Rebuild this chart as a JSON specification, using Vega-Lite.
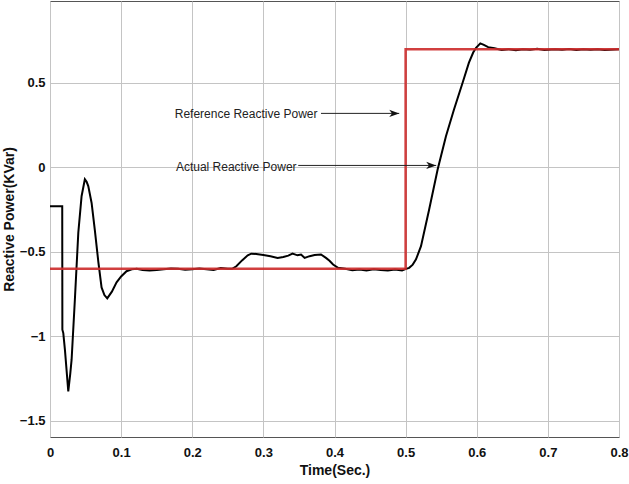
{
  "$schema": "https://vega.github.io/schema/vega-lite/v6.json",
  "width": 569,
  "height": 436,
  "autosize": "none",
  "padding": {"left": 50, "top": 1, "right": 10, "bottom": 47},
  "background": "white",
  "config": {
    "view": {"stroke": "#555555", "strokeWidth": 1},
    "font": "Liberation Sans",
    "axis": {
      "grid": true, "gridColor": "#c4c4c4", "gridWidth": 1,
      "domain": false, "ticks": false,
      "labelFont": "Liberation Sans", "labelFontWeight": "bold", "labelFontSize": 13, "labelColor": "#111111",
      "titleFont": "Liberation Sans", "titleFontWeight": "bold", "titleFontSize": 14, "titleColor": "#111111"
    }
  },
  "datasets": {
    "actual": [
      {"t":0,"v":-0.23},{"t":0.0172,"v":-0.23},{"t":0.0174,"v":-0.96},{"t":0.0187,"v":-0.98},{"t":0.021,"v":-1.08},
      {"t":0.0257,"v":-1.325},{"t":0.0285,"v":-1.22},{"t":0.0304,"v":-1.136},{"t":0.035,"v":-0.78},{"t":0.0398,"v":-0.386},
      {"t":0.0444,"v":-0.17},{"t":0.049,"v":-0.07},{"t":0.0515,"v":-0.085},{"t":0.0538,"v":-0.11},{"t":0.0585,"v":-0.21},
      {"t":0.063,"v":-0.37},{"t":0.068,"v":-0.56},{"t":0.0725,"v":-0.71},{"t":0.0765,"v":-0.755},{"t":0.0805,"v":-0.775},
      {"t":0.087,"v":-0.735},{"t":0.0936,"v":-0.68},{"t":0.1,"v":-0.645},{"t":0.1076,"v":-0.614},{"t":0.115,"v":-0.603},
      {"t":0.122,"v":-0.6},{"t":0.13,"v":-0.607},{"t":0.14,"v":-0.61},{"t":0.15,"v":-0.607},{"t":0.16,"v":-0.603},
      {"t":0.17,"v":-0.598},{"t":0.18,"v":-0.6},{"t":0.19,"v":-0.605},{"t":0.2,"v":-0.602},{"t":0.21,"v":-0.598},
      {"t":0.22,"v":-0.603},{"t":0.23,"v":-0.607},{"t":0.24,"v":-0.595},{"t":0.25,"v":-0.6},{"t":0.256,"v":-0.6},
      {"t":0.262,"v":-0.585},{"t":0.27,"v":-0.55},{"t":0.278,"v":-0.52},{"t":0.283,"v":-0.51},{"t":0.29,"v":-0.512},
      {"t":0.3,"v":-0.518},{"t":0.31,"v":-0.525},{"t":0.32,"v":-0.535},{"t":0.328,"v":-0.53},{"t":0.335,"v":-0.522},
      {"t":0.341,"v":-0.51},{"t":0.348,"v":-0.52},{"t":0.353,"v":-0.515},{"t":0.358,"v":-0.535},{"t":0.365,"v":-0.525},
      {"t":0.372,"v":-0.518},{"t":0.381,"v":-0.515},{"t":0.388,"v":-0.535},{"t":0.393,"v":-0.552},{"t":0.398,"v":-0.574},
      {"t":0.405,"v":-0.594},{"t":0.415,"v":-0.6},{"t":0.425,"v":-0.608},{"t":0.435,"v":-0.604},{"t":0.445,"v":-0.61},
      {"t":0.455,"v":-0.603},{"t":0.465,"v":-0.607},{"t":0.475,"v":-0.61},{"t":0.485,"v":-0.604},{"t":0.495,"v":-0.61},
      {"t":0.5006,"v":-0.6},{"t":0.505,"v":-0.594},{"t":0.51,"v":-0.575},{"t":0.5146,"v":-0.544},{"t":0.5216,"v":-0.466},
      {"t":0.533,"v":-0.25},{"t":0.545,"v":-0.012},{"t":0.5567,"v":0.185},{"t":0.568,"v":0.343},{"t":0.58,"v":0.5},
      {"t":0.589,"v":0.62},{"t":0.595,"v":0.68},{"t":0.599,"v":0.708},{"t":0.605,"v":0.734},{"t":0.61,"v":0.725},
      {"t":0.616,"v":0.712},{"t":0.625,"v":0.705},{"t":0.635,"v":0.695},{"t":0.645,"v":0.7},{"t":0.655,"v":0.694},
      {"t":0.665,"v":0.7},{"t":0.675,"v":0.697},{"t":0.685,"v":0.702},{"t":0.695,"v":0.695},{"t":0.71,"v":0.7},
      {"t":0.72,"v":0.696},{"t":0.73,"v":0.701},{"t":0.74,"v":0.695},{"t":0.75,"v":0.7},{"t":0.76,"v":0.697},
      {"t":0.77,"v":0.7},{"t":0.78,"v":0.695},{"t":0.8,"v":0.7}
    ],
    "reference": [
      {"i":0,"t":0,"v":-0.6},{"i":1,"t":0.5,"v":-0.6},{"i":2,"t":0.5,"v":0.7},{"i":3,"t":0.8,"v":0.7}
    ],
    "labels": [
      {"label":"Reference Reactive Power","t":0.1754,"v":0.314},
      {"label":"Actual Reactive Power","t":0.177,"v":0.003}
    ],
    "arrows": [
      {"t0":0.381,"t1":0.491,"v":0.32},
      {"t0":0.349,"t1":0.543,"v":0.012}
    ]
  },
  "encoding": {
    "x": {"field":"t","type":"quantitative","scale":{"domain":[0,0.8],"nice":false,"zero":false},
          "axis":{"title":"Time(Sec.)","values":[0,0.1,0.2,0.3,0.4,0.5,0.6,0.7,0.8],"format":"~g","labelPadding":9,"titlePadding":4,"labelFlush":false}},
    "y": {"field":"v","type":"quantitative","scale":{"domain":[-1.595,0.985],"nice":false,"zero":false},
          "axis":{"title":"Reactive Power(KVar)","values":[-1.5,-1,-0.5,0,0.5],"format":"~g","labelPadding":5,"titlePadding":3,"labelFlush":false}}
  },
  "layer": [
    {"data":{"name":"actual"},"mark":{"type":"line","color":"#000000","strokeWidth":2}},
    {"data":{"name":"reference"},"mark":{"type":"line","color":"#cc2a2a","strokeWidth":2.5,"opacity":0.9},
     "encoding":{"order":{"field":"i","type":"quantitative"}}},
    {"data":{"name":"arrows"},"mark":{"type":"rule","color":"#222222","strokeWidth":1},
     "encoding":{"x":{"field":"t0","type":"quantitative"},"x2":{"field":"t1"},"y":{"field":"v","type":"quantitative"}}},
    {"data":{"name":"arrows"},"mark":{"type":"point","shape":"M0,0L-2.5,-0.9L-1.8,0L-2.5,0.9Z","size":64,"filled":true,"color":"#111111","opacity":1},
     "encoding":{"x":{"field":"t1","type":"quantitative"},"y":{"field":"v","type":"quantitative"}}},
    {"data":{"name":"labels"},"mark":{"type":"text","align":"left","baseline":"middle","font":"Liberation Sans","fontSize":12,"color":"#222222"},
     "encoding":{"text":{"field":"label"}}}
  ]
}
